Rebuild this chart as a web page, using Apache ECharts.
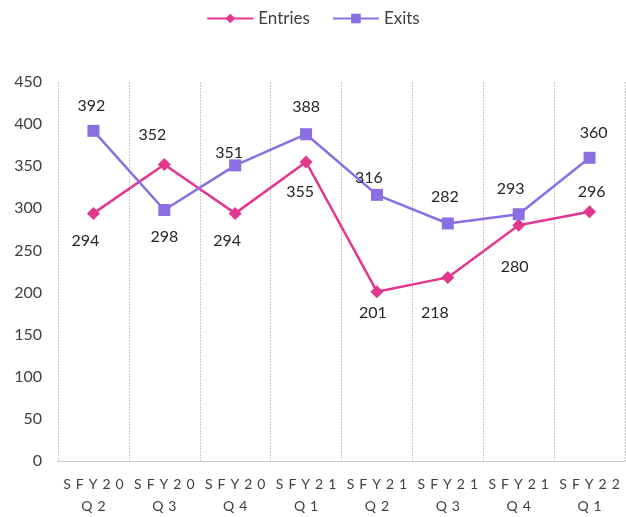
<!DOCTYPE html>
<html>
<head>
<meta charset="utf-8">
<script src="https://cdn.jsdelivr.net/npm/echarts@6/dist/echarts.min.js"></script>
<style>
  html, body { margin: 0; padding: 0; background: #fff; }
  #chart { width: 626px; height: 517px; }
</style>
</head>
<body>
<div id="chart"></div>
<script>
    var categories = ['SFY20 Q2', 'SFY20 Q3', 'SFY20 Q4', 'SFY21 Q1', 'SFY21 Q2', 'SFY21 Q3', 'SFY21 Q4', 'SFY22 Q1'];
    var entries = [294, 352, 294, 355, 201, 218, 280, 296];
    var exits = [392, 298, 351, 388, 316, 282, 293, 360];

    // label placement, copied by eye from the Excel chart
    var entriesPos = ['bottom', 'top', 'bottom', 'bottom', 'bottom', 'bottom', 'bottom', 'top'];
    var entriesShift = [[-8, 0], [-12, -2], [-8, 0], [-6, 2], [-4, -6], [-13, 8], [-4, 14], [2, 8]];
    var exitsPos = ['top', 'bottom', 'top', 'top', 'top', 'top', 'top', 'top'];
    var exitsShift = [[-2, 2], [0, 0], [-6, 14], [0, 0], [-8, 10], [-3, 0], [-8, 2], [4, 2]];

    var FONT = 'Lato';
    var chart = echarts.init(document.getElementById('chart'));

    function withLabels(values, pos, shift) {
        var out = [];
        for (var i = 0; i < values.length; i++) {
            out.push({
                value: values[i],
                label: { position: pos[i], offset: shift[i] }
            });
        }
        return out;
    }

    // Excel shows the category names with wide letter spacing
    function spaced(word) {
        return word.split('').map(function (ch) { return '{c|' + ch + '}'; }).join('');
    }

    var option = {
        animation: false,
        textStyle: { fontFamily: FONT },
        legend: {
            top: 5,
            left: 'center',
            itemWidth: 46,
            itemHeight: 12,
            itemGap: 22,
            textStyle: { fontSize: 17, color: '#404040', fontFamily: FONT },
            data: ['Entries', 'Exits']
        },
        grid: { left: 58, right: 1, top: 82, bottom: 56 },
        xAxis: {
            type: 'category',
            data: categories,
            boundaryGap: true,
            axisLine: { lineStyle: { color: '#c8c8c8' } },
            axisTick: { show: false },
            splitLine: { show: true, lineStyle: { color: '#c8c8c8', type: [2, 1] } },
            axisLabel: {
                interval: 0,
                margin: 12,
                color: '#404040',
                fontFamily: FONT,
                formatter: function (v) {
                    var parts = v.split(' ');
                    return spaced(parts[0]) + '\n' + spaced(parts[1]);
                },
                rich: {
                    c: { fontSize: 14, lineHeight: 22, color: '#404040', fontFamily: FONT, padding: [0, 2.5, 0, 2.5] }
                }
            }
        },
        yAxis: {
            type: 'value',
            min: 0,
            max: 450,
            interval: 50,
            axisLine: { show: false },
            axisTick: { show: false },
            splitLine: { show: false },
            axisLabel: { fontSize: 16, color: '#404040', margin: 16, fontFamily: FONT }
        },
        series: [
            {
                name: 'Entries',
                type: 'line',
                data: withLabels(entries, entriesPos, entriesShift),
                symbol: 'diamond',
                symbolSize: 13,
                itemStyle: { color: '#e2368f' },
                lineStyle: { color: '#e2368f', width: 2.5 },
                label: { show: true, distance: 13, fontSize: 16, color: '#262626', fontFamily: FONT }
            },
            {
                name: 'Exits',
                type: 'line',
                data: withLabels(exits, exitsPos, exitsShift),
                symbol: 'rect',
                symbolSize: 12,
                itemStyle: { color: '#8a6fe2' },
                lineStyle: { color: '#8a6fe2', width: 2.5 },
                label: { show: true, distance: 13, fontSize: 16, color: '#262626', fontFamily: FONT }
            }
        ]
    };
    chart.setOption(option);
</script>
</body>
</html>
